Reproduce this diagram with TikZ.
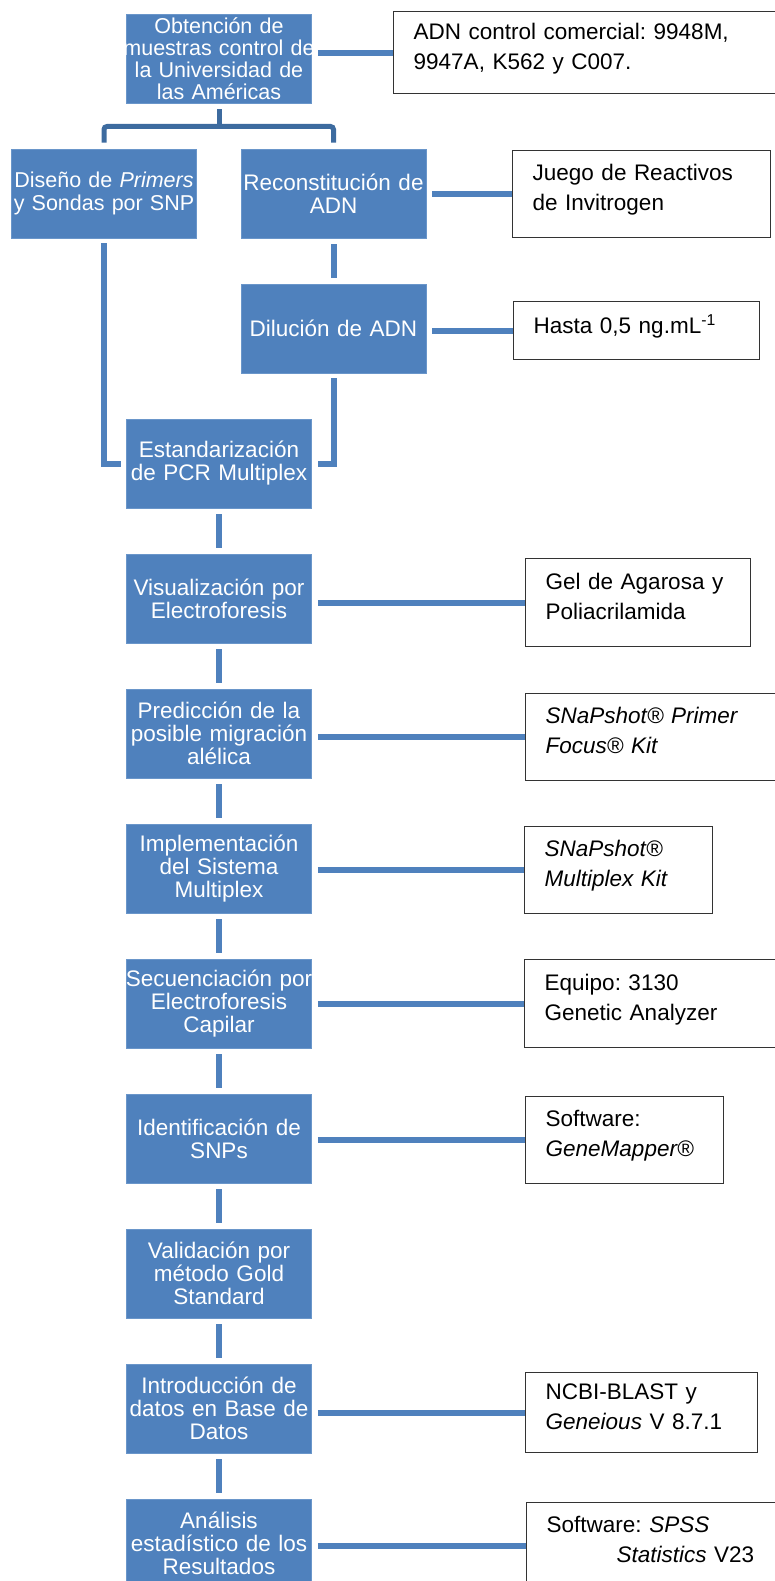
\documentclass[tikz,border=0pt]{standalone}
\usepackage{fontspec}
\setmainfont{Liberation Sans}
\frenchspacing
\usetikzlibrary{calc}
\definecolor{boxblue}{HTML}{4F81BD}
\definecolor{treeblue}{HTML}{3D6B9F}
\definecolor{boxedge}{HTML}{6A96CA}
\newcommand{\fullline}[1]{\makebox[185pt]{#1}}
\newcommand{\lift}{\rule[-13pt]{0pt}{13pt}}
\tikzset{
  stage/.style={fill=boxblue, draw=boxedge, line width=0.6pt, text=white,
    align=center, text width=185pt, minimum height=89pt, inner sep=0pt,
    font=\fontsize{22.5}{23}\selectfont},
  note/.style={draw=black!80, line width=1.4pt, fill=white, align=left,
    anchor=north west, inner xsep=20pt, inner ysep=0pt,
    font=\fontsize{22.5}{30}\selectfont, execute at end node=\lift},
  link/.style={draw=boxblue, line width=6pt},
  tree/.style={draw=treeblue, line width=5pt, rounded corners=3pt}
}
\begin{document}
\begin{tikzpicture}[x=1pt, y=-1pt]
\path[use as bounding box, clip] (0,0) rectangle (775,1581);

% etapas
\node[stage, font=\fontsize{21.5}{22}\selectfont] (obt) at (219,58.5) {Obtención de\\\fullline{muestras control de}\\la Universidad de\\las Américas};
\node[stage, font=\fontsize{21.5}{23}\selectfont] (dis) at (104,193.5) {Diseño de \textit{Primers}\\y Sondas por SNP};
\node[stage] (rec) at (333.5,193.5) {Reconstitución de\\ADN};
\node[stage] (dil) at (333.5,328.5) {Dilución de ADN};
\node[stage] (est) at (219,463.5) {Estandarización\\de PCR Multiplex};
\node[stage] (vis) at (219,598.5) {Visualización por\\Electroforesis};
\node[stage] (pre) at (219,733.5) {Predicción de la\\posible migración\\alélica};
\node[stage] (imp) at (219,868.5) {Implementación\\del Sistema\\Multiplex};
\node[stage] (sec) at (219,1003.5) {\fullline{Secuenciación por}\\Electroforesis\\Capilar};
\node[stage] (ide) at (219,1138.5) {Identificación de\\SNPs};
\node[stage] (val) at (219,1273.5) {Validación por\\método Gold\\Standard};
\node[stage] (int) at (219,1408.5) {Introducción de\\datos en Base de\\Datos};
\node[stage] (ana) at (219,1543.5) {Análisis\\estadístico de los\\Resultados};

% recursos
\node[note, text width=360pt, minimum height=82pt] (adn) at (393,11) {ADN control comercial: 9948M,\\9947A, K562 y C007.};
\node[note, text width=218pt, minimum height=87pt] (jue) at (512,150) {Juego de Reactivos\\de Invitrogen};
\node[note, text width=206pt, minimum height=58pt] (has) at (513,301) {Hasta 0,5 ng.mL\textsuperscript{-1}};
\node[note, text width=185pt, minimum height=88pt] (gel) at (525,558) {Gel de Agarosa y\\Poliacrilamida};
\node[note, text width=260pt, minimum height=87pt] (kitp) at (525,693) {\textit{SNaPshot® Primer}\\\textit{Focus® Kit}};
\node[note, text width=148pt, minimum height=87pt] (kitm) at (524,826) {\textit{SNaPshot®}\\\textit{Multiplex Kit}};
\node[note, text width=260pt, minimum height=88pt] (equ) at (524,959) {Equipo: 3130\\Genetic Analyzer};
\node[note, text width=158pt, minimum height=87pt] (gen) at (525,1096) {Software:\\\textit{GeneMapper®}};
\node[note, text width=192pt, minimum height=80pt] (ncb) at (525,1372) {NCBI-BLAST y\\\textit{Geneious} V 8.7.1};
\node[note, text width=260pt, minimum height=87pt] (sps) at (526,1502) {Software: \textit{SPSS}\\\hspace*{70pt}\textit{Statistics} V23};

% ramas
\coordinate (fork) at (219,126.5);
\draw[tree] ([yshift=-6pt]obt.south) -- (fork);
\draw[tree] ([yshift=6pt]dis.north) |- (fork) -| ([yshift=6pt]rec.north);
\draw[link] ([yshift=-6pt]rec.south) -- ([yshift=6pt]dil.north);
\draw[link] ([yshift=-5pt]dis.south) |- ([xshift=-5pt]est.west);
\draw[link] ([yshift=-5pt]dil.south) |- ([xshift=6pt]est.east);
\foreach \a/\b in {est/vis, vis/pre, pre/imp, imp/sec, sec/ide, ide/val, val/int, int/ana}
  \draw[link] ([yshift=-6pt]\a.south) -- ([yshift=6pt]\b.north);
\foreach \a/\b in {obt/adn, rec/jue, dil/has, vis/gel, pre/kitp, imp/kitm, sec/equ, ide/gen, int/ncb, ana/sps}
  \draw[link] ($(\a.east |- \b.west)+(6,0)$) -- (\b.west);
\end{tikzpicture}
\end{document}
